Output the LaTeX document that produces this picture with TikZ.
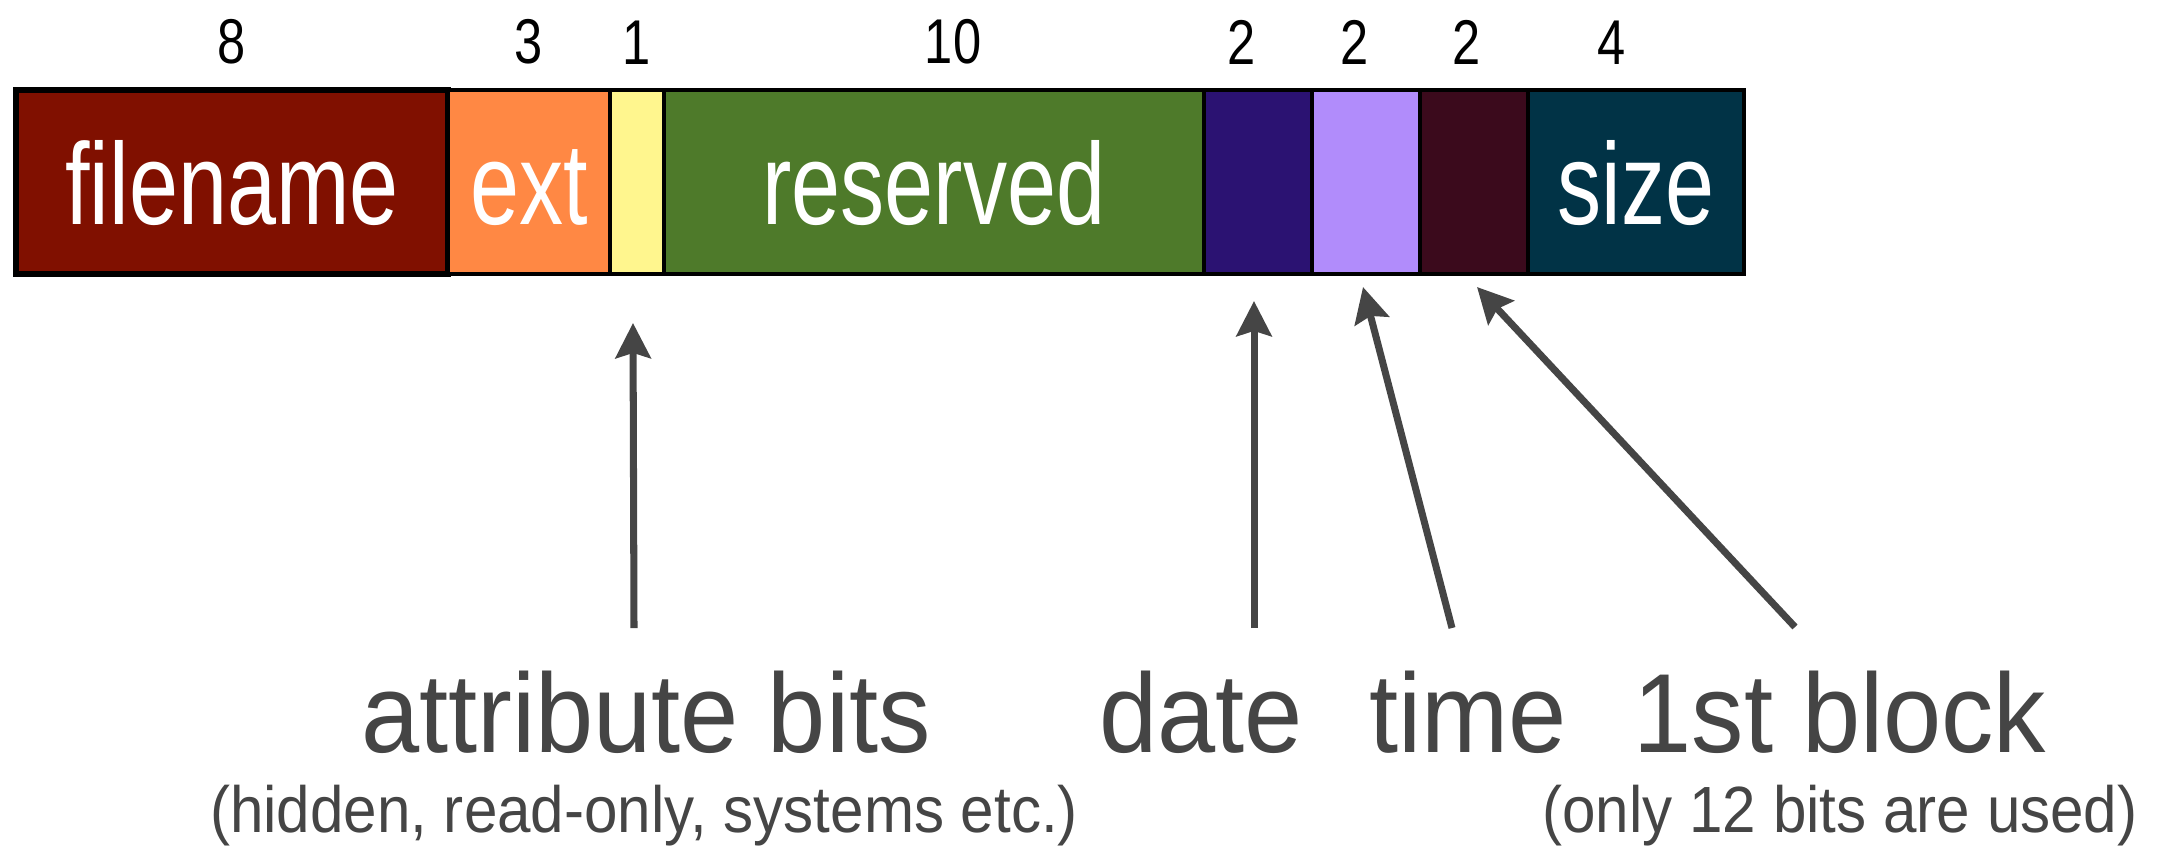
\documentclass[tikz,border=0pt]{standalone}
\usepackage{fontspec}
\usepackage{tikz}
\usetikzlibrary{arrows.meta,positioning}
\setmainfont{Liberation Sans}
\newfontfamily\blkfont[FakeStretch=0.76]{Liberation Sans}
\newfontfamily\lblfont[FakeStretch=0.93]{Liberation Sans}
\newfontfamily\subfont[FakeStretch=0.92]{Liberation Sans}
\newfontfamily\numfont[FakeStretch=0.8]{Liberation Sans}
\definecolor{fnred}{HTML}{801000}
\definecolor{extorange}{HTML}{FF8844}
\definecolor{attryellow}{HTML}{FFF68E}
\definecolor{resgreen}{HTML}{4E7A2A}
\definecolor{dateindigo}{HTML}{2B1272}
\definecolor{timelav}{HTML}{B18CFB}
\definecolor{blkmaroon}{HTML}{3B0A1C}
\definecolor{sizeteal}{HTML}{013346}
\definecolor{labelgray}{HTML}{454545}
\tikzset{
  fld/.style={draw=black, line width=1.2pt, minimum height=18.4mm, inner sep=0pt, outer sep=0pt,
    font=\blkfont\fontsize{33}{33}\selectfont, text=white, text height=24pt, text depth=0pt},
  num/.style={inner sep=0pt, outer sep=0pt, font=\numfont\fontsize{18}{18}\selectfont, text=black},
  lbl/.style={inner sep=0pt, font=\lblfont\fontsize{32}{32}\selectfont, text=labelgray},
  sub/.style={inner sep=0pt, font=\subfont\fontsize{18.6}{18.6}\selectfont, text=labelgray},
  arr/.style={-{Stealth[length=10pt, width=10pt, inset=1.5pt]}, line width=2pt, color=labelgray},
}
\begin{document}
\begin{tikzpicture}
  \useasboundingbox (0,0) rectangle (21.65,-8.51);
  % the directory entry, one box per field
  \node[fld, fill=fnred, line width=1.6pt, minimum width=43.2mm, anchor=north west] (fn) at (0.16,-0.90) {filename};
  \node[fld, fill=extorange, minimum width=16.2mm, right=0pt of fn] (ext) {ext};
  \node[fld, fill=attryellow, minimum width=5.4mm, right=0pt of ext] (attr) {};
  \node[fld, fill=resgreen, minimum width=54mm, right=0pt of attr] (res) {reserved};
  \node[fld, fill=dateindigo, minimum width=10.8mm, right=0pt of res] (date) {};
  \node[fld, fill=timelav, minimum width=10.8mm, right=0pt of date] (time) {};
  \node[fld, fill=blkmaroon, minimum width=10.8mm, right=0pt of time] (blk) {};
  \node[fld, fill=sizeteal, minimum width=21.6mm, right=0pt of blk] (size) {size};
  % byte counts
  \node[num, above=2.6mm of fn] (nfn) {8};
  \node[num, above=2.6mm of ext] (next) {3};
  \node[num, above=2.6mm of attr] (nattr) {1};
  \node[num, above=2.6mm of res, xshift=1.9mm] (nres) {10};
  \node[num, above=2.6mm of date, xshift=-1.6mm] (ndate) {2};
  \node[num, above=2.6mm of time, xshift=-1.1mm] (ntime) {2};
  \node[num, above=2.6mm of blk, xshift=-0.7mm] (nblk) {2};
  \node[num, above=2.6mm of size, xshift=-2.4mm] (nsize) {4};
  % labels below
  \node[lbl, anchor=base] (attrlbl) at (6.46,-7.52) {attribute bits};
  \node[sub, anchor=base] (attrsub) at (6.44,-8.32) {(hidden, read-only, systems etc.)};
  \node[lbl, anchor=base] (datelbl) at (12.01,-7.52) {date};
  \node[lbl, anchor=base] (timelbl) at (14.68,-7.52) {time};
  \node[lbl, anchor=base] (blklbl) at (18.40,-7.52) {1st block};
  \node[sub, anchor=base] (blksub) at (18.40,-8.32) {(only 12 bits are used)};
  % arrows
  \coordinate (attrtail) at (6.34,-6.28);
  \coordinate (attrtip) at (6.33,-3.23);
  \coordinate (datetail) at (12.54,-6.28);
  \coordinate (datetip) at (12.54,-3.01);
  \coordinate (timetail) at (14.52,-6.28);
  \coordinate (timetip) at (13.63,-2.87);
  \coordinate (blktail) at (17.95,-6.27);
  \coordinate (blktip) at (14.77,-2.87);
  \draw[arr] (attrtail) -- (attrtip);
  \draw[arr] (datetail) -- (datetip);
  \draw[arr] (timetail) -- (timetip);
  \draw[arr] (blktail) -- (blktip);
\end{tikzpicture}
\end{document}
